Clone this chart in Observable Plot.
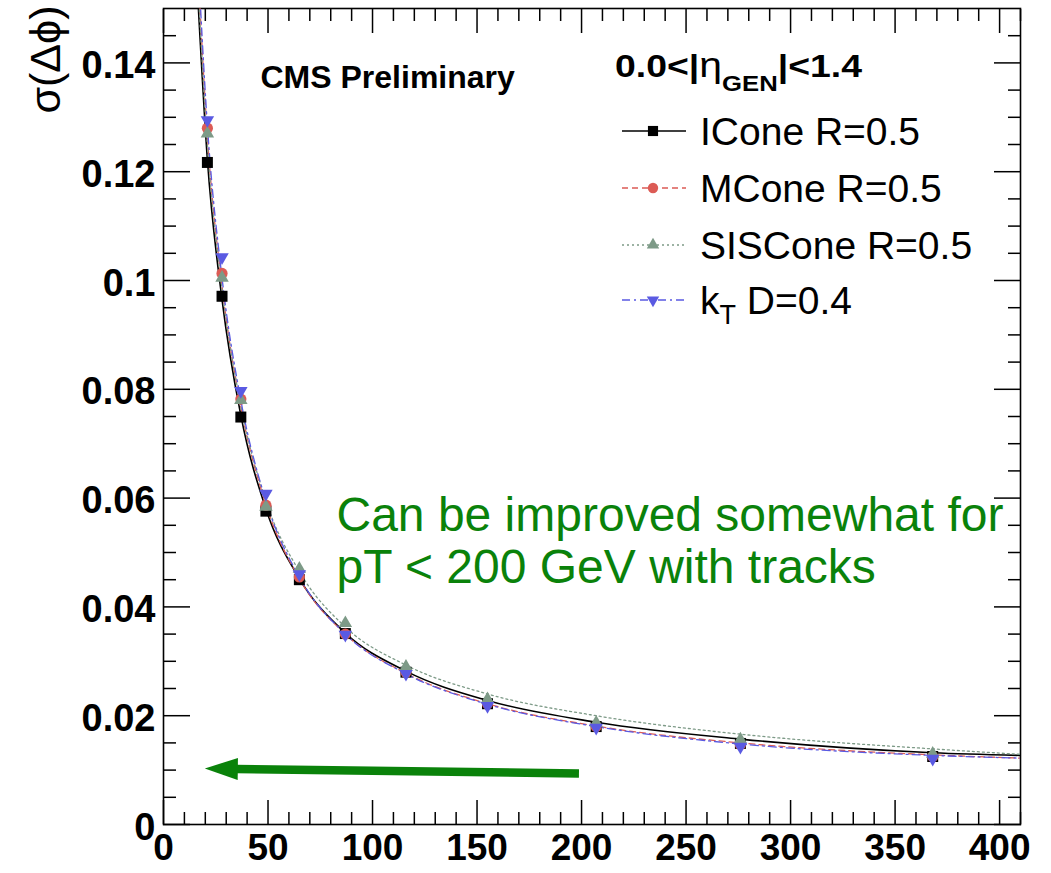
<!DOCTYPE html>
<html>
<head>
<meta charset="utf-8">
<script src="https://cdn.jsdelivr.net/npm/d3@7"></script>
<script src="https://cdn.jsdelivr.net/npm/@observablehq/plot@0.6"></script>
<style>
  html, body { margin: 0; padding: 0; background: #fff; }
  #chart svg { display: block; }
</style>
</head>
<body>
<div id="chart"></div>
<script>
// Jet azimuthal resolution vs generated jet pT, |eta| < 1.4
const ptBins   = [21, 28, 37, 49, 65, 87, 116, 155, 207, 276, 368];
const iconeRes = [0.1217, 0.0971, 0.0749, 0.0576, 0.0450, 0.0351, 0.0280, 0.0222, 0.0180, 0.0149, 0.0125];
const mconeRes = [0.1280, 0.1013, 0.0782, 0.0587, 0.0455, 0.0350, 0.0280, 0.0222, 0.0180, 0.0147, 0.0125];
const sisRes   = [0.1270, 0.1005, 0.0780, 0.0584, 0.0470, 0.0370, 0.0290, 0.0230, 0.0187, 0.0156, 0.0130];
const ktRes    = [0.1295, 0.1043, 0.0797, 0.0608, 0.0460, 0.0349, 0.0277, 0.0218, 0.0178, 0.0143, 0.0121];

// Fitted resolution curves, sampled along pT
const fitPt     = [16, 21, 28, 37, 49, 65, 87, 116, 155, 207, 276, 368, 410];
const iconeFit  = [0.155, 0.1222, 0.0965, 0.0752, 0.0580, 0.0452, 0.0352, 0.0282, 0.0228, 0.0188, 0.0157, 0.0132, 0.0127];
const mconeFit  = [0.161, 0.1265, 0.0990, 0.0768, 0.0588, 0.0452, 0.0350, 0.0278, 0.0222, 0.0181, 0.0150, 0.0128, 0.0122];
const sisFit    = [0.158, 0.1250, 0.0985, 0.0770, 0.0595, 0.0465, 0.0363, 0.0293, 0.0240, 0.0200, 0.0166, 0.0139, 0.0129];
const ktFit     = [0.163, 0.1285, 0.1005, 0.0780, 0.0595, 0.0455, 0.0350, 0.0277, 0.0221, 0.0180, 0.0148, 0.0127, 0.0122];

const seriesNames = ["ICone R=0.5", "MCone R=0.5", "SISCone R=0.5", "kT D=0.4"];

// Axis ticks
const xMajor = [0, 50, 100, 150, 200, 250, 300, 350, 400];
const xMinor = [10, 20, 30, 40, 60, 70, 80, 90, 110, 120, 130, 140, 160, 170, 180, 190, 210, 220, 230, 240,
                260, 270, 280, 290, 310, 320, 330, 340, 360, 370, 380, 390, 410];
const yMajor = [0, 0.02, 0.04, 0.06, 0.08, 0.1, 0.12, 0.14];
const yMinor = [0.005, 0.01, 0.015, 0.025, 0.03, 0.035, 0.045, 0.05, 0.055, 0.065, 0.07, 0.075,
                0.085, 0.09, 0.095, 0.105, 0.11, 0.115, 0.125, 0.13, 0.135, 0.145];

// Annotation arrow (pT, sigma): tail and tip
const arrowTail = [199, 0.0093];
const arrowTip  = [20, 0.0102];

const styles = [
  {name: seriesNames[0], label: ["ICone R=0.5"], values: iconeRes, fit: iconeFit, color: "#000000", dash: null,      width: 1.6, symbol: "square",   r: 6.2, rotate: 0},
  {name: seriesNames[1], label: ["MCone R=0.5"], values: mconeRes, fit: mconeFit, color: "#dc5b55", dash: "6,4",     width: 1.3, symbol: "circle",   r: 5.6, rotate: 0},
  {name: seriesNames[2], label: ["SISCone R=0.5"], values: sisRes, fit: sisFit,   color: "#7d9a87", dash: "2,3",     width: 1.3, symbol: "triangle", r: 5.0, rotate: 0},
  {name: seriesNames[3], label: ["k", "T", " D=0.4"], values: ktRes, fit: ktFit,  color: "#5a5ae2", dash: "8,4,2,4", width: 1.3, symbol: "triangle", r: 5.0, rotate: 180}
];

const FONT = "'Liberation Sans', Arial, Helvetica, sans-serif";
const GREEN = "#0a820a";

const points = s => ptBins.map((x, i) => ({pt: x, sigma: s.values[i], algo: s.name}));
const curve  = s => fitPt.map((x, i) => ({pt: x, sigma: s.fit[i], algo: s.name}));

// Legend block with header, line samples, markers and names
function legend(index, scales, values, dimensions) {
  const g = d3.create("svg:g").attr("font-family", FONT).attr("text-anchor", "start");
  const head = g.append("text").attr("x", 615).attr("y", 77)
    .attr("font-size", 32).attr("font-weight", "bold").attr("fill", "#000")
    .attr("textLength", 247).attr("lengthAdjust", "spacingAndGlyphs");
  head.append("tspan").text("0.0<|");
  head.append("tspan").attr("font-weight", "normal").attr("font-size", 35).text("η");
  head.append("tspan").attr("font-size", 22).attr("dy", 14).text("GEN");
  head.append("tspan").attr("dy", -14).text("|<1.4");

  const rowY = [131, 188, 245, 300];
  styles.forEach((s, i) => {
    const y = rowY[i];
    g.append("line").attr("x1", 622).attr("x2", 686).attr("y1", y).attr("y2", y)
      .attr("stroke", s.color).attr("stroke-width", s.width)
      .attr("stroke-dasharray", s.dash);
    const sym = s.symbol === "square" ? d3.symbolSquare : s.symbol === "circle" ? d3.symbolCircle : d3.symbolTriangle;
    g.append("path").attr("d", d3.symbol(sym, Math.PI * s.r * s.r * 0.85)())
      .attr("transform", `translate(653,${y}) rotate(${s.rotate})`)
      .attr("fill", s.color);
    const t = g.append("text").attr("x", 700).attr("y", y + 14)
      .attr("font-size", 39).attr("fill", "#000");
    if (s.label.length === 1) {
      t.text(s.label[0]);
    } else {
      t.append("tspan").text(s.label[0]);
      t.append("tspan").attr("font-size", 27).attr("dy", 10).text(s.label[1]);
      t.append("tspan").attr("dy", -10).text(s.label[2]);
    }
  });
  return g.node();
}

// Thick arrow with a filled head, pointing to low pT
function arrow(index, {x, y}) {
  const g = d3.create("svg:g");
  const x0 = x(arrowTail[0]), y0 = y(arrowTail[1]);
  const x1 = x(arrowTip[0]),  y1 = y(arrowTip[1]);
  const ang = Math.atan2(y1 - y0, x1 - x0);
  const headLen = 33, headHalf = 11;
  const bx = x1 - headLen * Math.cos(ang), by = y1 - headLen * Math.sin(ang);
  g.append("line").attr("x1", x0).attr("y1", y0).attr("x2", bx + 2 * Math.cos(ang)).attr("y2", by + 2 * Math.sin(ang))
    .attr("stroke", GREEN).attr("stroke-width", 8.5);
  const nx = -Math.sin(ang), ny = Math.cos(ang);
  g.append("path")
    .attr("d", `M${x1},${y1}L${bx + headHalf * nx},${by + headHalf * ny}L${bx - headHalf * nx},${by - headHalf * ny}Z`)
    .attr("fill", GREEN);
  return g.node();
}

const tickStyle = {stroke: "#000", strokeWidth: 1.5, label: null};

const marks = [
  // inward major and minor ticks on all four sides
  Plot.axisX({ticks: xMinor, anchor: "bottom", tickSize: -12, tickFormat: () => "", ...tickStyle}),
  Plot.axisX({ticks: xMajor, anchor: "bottom", tickSize: -24, tickFormat: () => "", ...tickStyle}),
  Plot.axisX({ticks: xMinor, anchor: "top", tickSize: -12, tickFormat: () => "", ...tickStyle}),
  Plot.axisX({ticks: xMajor, anchor: "top", tickSize: -24, tickFormat: () => "", ...tickStyle}),
  Plot.axisY({ticks: yMinor, anchor: "left", tickSize: -13, tickFormat: () => "", ...tickStyle}),
  Plot.axisY({ticks: yMajor, anchor: "left", tickSize: -27, tickFormat: () => "", ...tickStyle}),
  Plot.axisY({ticks: yMinor, anchor: "right", tickSize: -13, tickFormat: () => "", ...tickStyle}),
  Plot.axisY({ticks: yMajor, anchor: "right", tickSize: -27, tickFormat: () => "", ...tickStyle}),
  // tick labels
  Plot.axisX({ticks: xMajor, anchor: "bottom", tickSize: 0, tickPadding: 9, tickFormat: d => String(d),
    fontSize: 37, fontWeight: "bold", fill: "#000", label: null}),
  Plot.axisY({ticks: yMajor, anchor: "left", tickSize: 0, tickPadding: 8, tickFormat: d => String(d),
    fontSize: 38, fontWeight: "bold", fill: "#000", dy: 3, label: null}),
  Plot.frame({stroke: "#000", strokeWidth: 1.6})
];

// fit curves first, markers on top
styles.forEach(s => {
  marks.push(Plot.line(curve(s), {x: "pt", y: "sigma", stroke: s.color, strokeWidth: s.width,
    strokeDasharray: s.dash, curve: "monotone-x", clip: true}));
});
styles.forEach(s => {
  marks.push(Plot.dot(points(s), {x: "pt", y: "sigma", fill: s.color, stroke: "none",
    symbol: s.symbol, r: s.r, rotate: s.rotate}));
});

marks.push(
  Plot.text(["CMS Preliminary"], {frameAnchor: "top-left", dx: 97, dy: 57, lineAnchor: "top", textAnchor: "start",
    fontSize: 32, fontWeight: "bold", fontFamily: FONT, fill: "#000"}),
  Plot.text(["Can be improved somewhat for\npT < 200 GeV with tracks"], {frameAnchor: "top-left", dx: 173, dy: 485,
    lineAnchor: "top", textAnchor: "start", lineHeight: 1.09, fontSize: 48, fontFamily: FONT, fill: GREEN}),
  Plot.text(["σ(Δϕ)"], {frameAnchor: "top-left", dx: -104, dy: -3, rotate: -90, textAnchor: "end",
    lineAnchor: "bottom", fontSize: 43, fontFamily: FONT, fill: "#000"}),
  arrow,
  legend
);

const chart = Plot.plot({
  width: 1051,
  height: 873,
  marginLeft: 163,
  marginRight: 31,
  marginTop: 8,
  marginBottom: 49,
  style: {fontFamily: FONT, background: "#fff", overflow: "visible"},
  x: {domain: [0, 410], axis: null, label: null},
  y: {domain: [0, 0.15], axis: null, label: null},
  marks
});

document.getElementById("chart").appendChild(chart);
</script>
</body>
</html>
